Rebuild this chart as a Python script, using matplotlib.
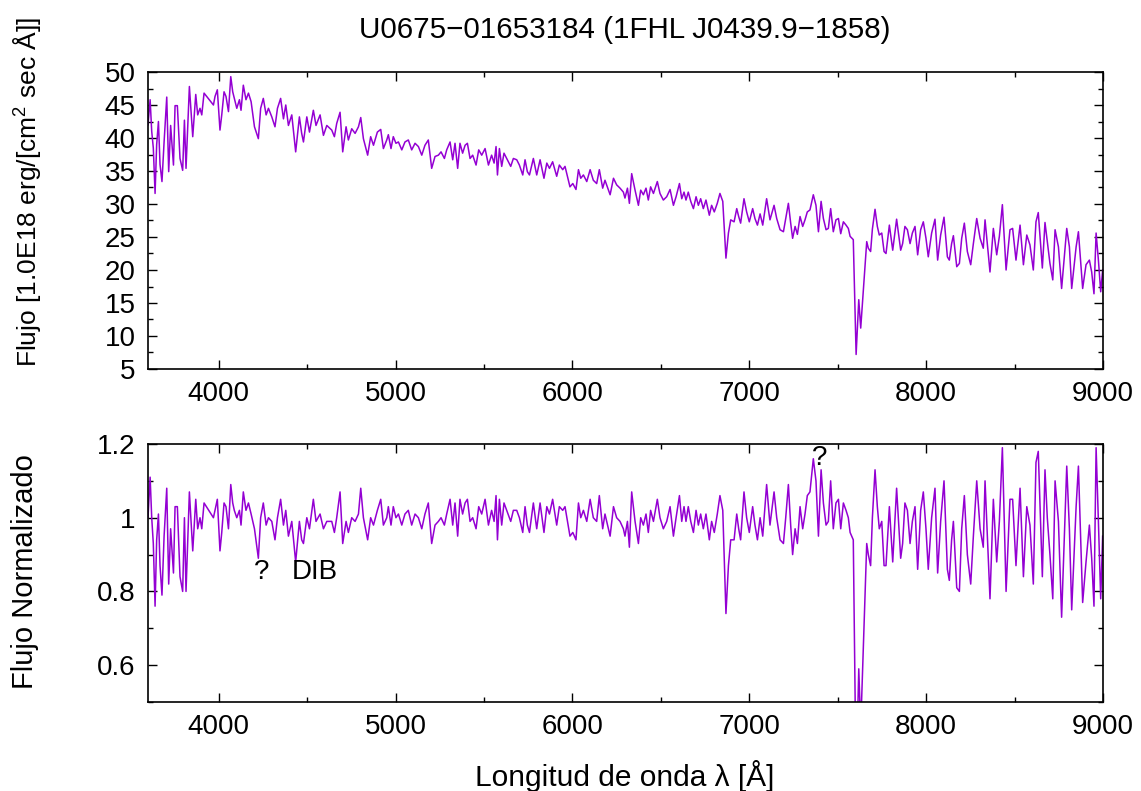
import matplotlib
matplotlib.use("Agg")
import matplotlib.pyplot as plt
from matplotlib.ticker import MultipleLocator

# spectrum: wavelength [A], flux [1e-18 erg/cm2/s/A], normalized flux
wave = [
    3600, 3612, 3621, 3630, 3640, 3649, 3659, 3668, 3679, 3691,
    3706, 3717, 3728, 3744, 3753, 3766, 3781, 3796, 3806, 3815,
    3834, 3853, 3870, 3881, 3894, 3904, 3917, 3970, 3979, 3992,
    4007, 4017, 4030, 4041, 4055, 4068, 4079, 4088, 4102, 4117,
    4126, 4139, 4154, 4168, 4183, 4202, 4224, 4237, 4252, 4268,
    4281, 4300, 4318, 4332, 4350, 4366, 4379, 4394, 4413, 4435,
    4456, 4469, 4479, 4498, 4513, 4535, 4550, 4573, 4592, 4611,
    4639, 4654, 4667, 4686, 4701, 4720, 4733, 4752, 4771, 4790,
    4803, 4818, 4842, 4859, 4875, 4897, 4916, 4931, 4950, 4959,
    4974, 4987, 5002, 5016, 5035, 5053, 5072, 5091, 5110, 5129,
    5148, 5166, 5185, 5204, 5223, 5242, 5257, 5276, 5289, 5308,
    5323, 5336, 5351, 5364, 5379, 5393, 5406, 5421, 5436, 5455,
    5470, 5487, 5506, 5525, 5543, 5557, 5568, 5576, 5587, 5600,
    5613, 5628, 5651, 5666, 5685, 5700, 5719, 5732, 5745, 5757,
    5779, 5798, 5817, 5839, 5855, 5870, 5888, 5911, 5926, 5945,
    5958, 5986, 6002, 6020, 6034, 6047, 6062, 6081, 6100, 6118,
    6137, 6152, 6171, 6184, 6213, 6232, 6250, 6269, 6288, 6297,
    6311, 6322, 6335, 6354, 6373, 6386, 6401, 6416, 6429, 6442,
    6458, 6480, 6495, 6514, 6533, 6552, 6571, 6586, 6605, 6618,
    6631, 6642, 6655, 6669, 6684, 6699, 6712, 6725, 6740, 6755,
    6774, 6787, 6802, 6819, 6834, 6850, 6868, 6882, 6895, 6914,
    6929, 6940, 6951, 6970, 6985, 7000, 7019, 7032, 7046, 7061,
    7076, 7098, 7117, 7140, 7155, 7174, 7193, 7206, 7221, 7234,
    7245, 7259, 7272, 7287, 7302, 7315, 7328, 7343, 7362, 7377,
    7391, 7406, 7419, 7434, 7447, 7460, 7475, 7490, 7504, 7517,
    7532, 7547, 7560, 7570, 7588, 7604, 7619, 7630, 7664, 7673,
    7686, 7696, 7711, 7724, 7735, 7749, 7762, 7773, 7792, 7811,
    7833, 7856, 7867, 7880, 7894, 7909, 7922, 7937, 7952, 7969,
    7984, 7999, 8012, 8031, 8050, 8065, 8082, 8101, 8120, 8131,
    8144, 8154, 8173, 8188, 8201, 8216, 8233, 8252, 8267, 8286,
    8305, 8323, 8333, 8361, 8380, 8399, 8414, 8431, 8452, 8474,
    8489, 8508, 8531, 8550, 8569, 8587, 8606, 8621, 8634, 8657,
    8672, 8685, 8700, 8716, 8729, 8748, 8766, 8795, 8810, 8823,
    8848, 8861, 8885, 8904, 8923, 8936, 8949, 8961, 8974, 8987, 8998,
]

flux = [
    42.0, 45.8, 41.0, 38.5, 31.6, 39.0, 42.5, 36.0, 33.4, 39.4,
    46.2, 34.9, 41.9, 35.9, 44.9, 44.9, 36.9, 35.1, 42.7, 35.4,
    47.8, 40.2, 46.6, 43.5, 44.5, 43.5, 46.8, 45.0, 46.3, 47.3,
    41.2, 43.5, 47.0, 46.3, 44.0, 49.3, 47.0, 46.0, 44.5, 45.8,
    44.2, 48.0, 45.8, 46.8, 45.5, 41.7, 39.9, 44.5, 46.0, 43.5,
    44.5, 43.2, 41.7, 44.5, 46.0, 42.9, 45.0, 41.9, 43.5, 37.9,
    43.2, 40.7, 39.4, 43.2, 40.9, 44.2, 41.9, 43.5, 40.4, 41.9,
    41.2, 40.2, 42.2, 43.9, 37.9, 41.7, 39.7, 41.4, 40.7, 41.7,
    43.1, 39.9, 37.4, 40.2, 38.9, 40.9, 41.3, 38.4, 39.7, 40.5,
    38.4, 40.2, 39.2, 39.4, 38.2, 39.4, 39.7, 38.2, 39.2, 38.7,
    37.4, 38.9, 39.7, 35.4, 37.2, 37.4, 37.9, 36.9, 38.2, 39.4,
    36.7, 39.2, 35.4, 39.2, 37.7, 38.9, 39.2, 36.9, 37.4, 35.9,
    38.2, 37.4, 38.4, 35.9, 37.4, 36.2, 38.7, 34.4, 38.4, 35.7,
    37.7, 36.9, 35.7, 36.9, 36.7, 35.9, 34.4, 36.7, 34.9, 34.4,
    36.9, 34.4, 36.7, 33.9, 36.2, 35.4, 36.4, 34.2, 35.9, 35.2,
    35.7, 32.6, 33.1, 32.2, 35.2, 33.9, 34.4, 33.4, 35.2, 33.6,
    33.1, 35.2, 32.4, 33.6, 31.4, 33.9, 32.9, 32.4, 31.8, 30.9,
    32.4, 30.1, 34.6, 32.1, 29.8, 32.1, 31.4, 32.4, 30.6, 32.6,
    31.6, 33.4, 31.6, 30.6, 31.1, 32.2, 29.8, 31.1, 33.1, 30.8,
    31.8, 30.6, 31.8, 30.4, 29.3, 31.1, 29.8, 30.8, 29.3, 30.6,
    28.3, 29.8, 28.8, 30.1, 31.6, 30.4, 21.8, 25.6, 27.6, 27.3,
    29.3, 28.1, 27.1, 30.8, 28.8, 27.3, 29.3, 27.8, 26.8, 28.5,
    26.8, 30.8, 27.6, 29.8, 27.8, 26.1, 25.8, 27.8, 30.1, 27.1,
    24.8, 26.6, 25.4, 28.1, 26.6, 27.6, 28.8, 29.1, 31.4, 29.8,
    25.8, 30.4, 27.8, 26.1, 26.3, 29.3, 25.8, 27.6, 27.8, 25.5,
    27.3, 26.8, 26.3, 25.1, 24.6, 7.2, 15.5, 11.2, 24.3, 23.3,
    22.8, 26.2, 29.2, 26.6, 25.3, 25.6, 22.8, 22.5, 26.8, 23.0,
    27.7, 23.0, 24.0, 26.6, 26.1, 24.0, 25.6, 26.6, 22.3, 26.1,
    27.3, 24.8, 22.0, 25.6, 27.7, 21.5, 25.3, 28.0, 22.0, 21.5,
    24.0, 25.2, 20.5, 21.0, 24.8, 27.1, 22.8, 20.8, 24.0, 27.8,
    24.8, 23.3, 27.6, 19.7, 26.3, 22.3, 25.1, 29.9, 20.0, 26.1,
    26.3, 21.5, 26.8, 20.8, 25.3, 23.8, 20.0, 27.3, 28.7, 20.3,
    27.2, 24.3, 21.0, 18.5, 26.1, 23.5, 17.2, 26.3, 23.5, 17.2,
    23.5, 25.8, 17.2, 20.8, 21.5, 19.7, 16.4, 25.6, 21.5, 16.7, 20.0,
]

norm = [
    1.00, 1.11, 1.00, 0.93, 0.76, 0.94, 1.01, 0.87, 0.79, 0.95,
    1.08, 0.82, 0.97, 0.85, 1.03, 1.03, 0.84, 0.80, 1.00, 0.80,
    1.07, 0.91, 1.05, 0.97, 1.00, 0.97, 1.04, 1.00, 1.02, 1.05,
    0.91, 0.96, 1.04, 1.03, 0.97, 1.09, 1.04, 1.02, 1.00, 1.02,
    0.98, 1.07, 1.02, 1.04, 1.01, 0.97, 0.89, 1.00, 1.04, 0.98,
    1.00, 0.99, 0.94, 1.00, 1.05, 0.98, 1.02, 0.95, 0.99, 0.88,
    0.99, 0.94, 0.93, 1.00, 0.97, 1.05, 0.99, 1.01, 0.97, 0.99,
    0.99, 0.96, 1.00, 1.07, 0.93, 0.99, 0.96, 1.00, 0.99, 1.01,
    1.08, 1.00, 0.94, 1.00, 0.98, 1.02, 1.05, 0.98, 1.00, 1.03,
    0.98, 1.03, 1.00, 1.01, 0.98, 1.01, 1.02, 0.98, 1.01, 1.00,
    0.97, 1.01, 1.04, 0.93, 0.98, 0.99, 1.00, 0.98, 1.01, 1.05,
    0.98, 1.04, 0.95, 1.05, 1.01, 1.04, 1.05, 0.99, 1.00, 0.97,
    1.03, 1.01, 1.05, 0.98, 1.02, 0.99, 1.06, 0.94, 1.05, 0.98,
    1.04, 1.02, 0.99, 1.02, 1.02, 1.00, 0.96, 1.03, 0.98, 0.96,
    1.04, 0.97, 1.04, 0.96, 1.03, 1.01, 1.05, 0.98, 1.03, 1.02,
    1.03, 0.95, 0.96, 0.94, 1.04, 1.00, 1.02, 0.99, 1.05, 1.00,
    0.99, 1.06, 0.97, 1.01, 0.95, 1.03, 1.00, 0.99, 0.97, 0.95,
    0.99, 0.92, 1.07, 0.99, 0.93, 1.00, 0.98, 1.01, 0.96, 1.02,
    0.99, 1.05, 1.00, 0.97, 0.99, 1.03, 0.95, 1.00, 1.06, 0.99,
    1.03, 0.99, 1.03, 0.99, 0.96, 1.02, 0.98, 1.01, 0.97, 1.01,
    0.94, 0.99, 0.96, 1.01, 1.06, 1.02, 0.74, 0.87, 0.94, 0.94,
    1.01, 0.97, 0.94, 1.07, 1.00, 0.96, 1.03, 0.98, 0.94, 1.00,
    0.95, 1.09, 0.98, 1.07, 1.00, 0.94, 0.93, 1.00, 1.09, 0.98,
    0.90, 0.97, 0.93, 1.03, 0.97, 1.01, 1.06, 1.07, 1.16, 1.10,
    0.95, 1.13, 1.04, 0.98, 0.99, 1.10, 0.97, 1.04, 1.05, 0.97,
    1.04, 1.02, 1.00, 0.96, 0.94, 0.28, 0.59, 0.43, 0.93, 0.90,
    0.87, 1.00, 1.13, 1.03, 0.97, 0.99, 0.87, 0.87, 1.03, 0.88,
    1.08, 0.89, 0.93, 1.04, 1.02, 0.93, 0.99, 1.03, 0.86, 1.02,
    1.07, 0.97, 0.86, 1.00, 1.08, 0.85, 0.99, 1.10, 0.86, 0.83,
    0.94, 0.99, 0.81, 0.80, 0.97, 1.06, 0.90, 0.82, 0.95, 1.10,
    0.97, 0.92, 1.10, 0.78, 1.05, 0.88, 0.99, 1.19, 0.80, 1.05,
    1.05, 0.87, 1.08, 0.84, 1.03, 0.98, 0.82, 1.15, 1.18, 0.84,
    1.13, 1.00, 0.90, 0.78, 1.10, 0.99, 0.73, 1.14, 0.97, 0.75,
    1.03, 1.14, 0.77, 0.88, 0.98, 0.89, 0.76, 1.19, 0.99, 0.78, 0.95,
]

title = "U0675\u221201653184 (1FHL J0439.9\u22121858)"
labels = [("?", 4245, 0.852), ("DIB", 4545, 0.852), ("?", 7400, 1.163)]

assert len(wave) == len(flux) == len(norm)

plt.rcParams["font.family"] = ["Liberation Sans", "DejaVu Sans"]
plt.rcParams["mathtext.default"] = "regular"
plt.rcParams["font.size"] = 20

color = "#9400d3"
W, H = 1141, 791

fig = plt.figure(figsize=(W / 100, H / 100), dpi=100)
ax1 = fig.add_axes([148 / W, 1 - 369 / H, 955 / W, 297 / H])
ax2 = fig.add_axes([148 / W, 1 - 702 / H, 955 / W, 258 / H])


def gnuplot_style(ax):
    ax.tick_params(which="both", direction="in", top=True, right=True, width=1)
    ax.tick_params(which="major", length=6.5, pad=9)
    ax.tick_params(which="minor", length=3.5)
    for s in ax.spines.values():
        s.set_linewidth(1.2)
    ax.xaxis.set_major_locator(MultipleLocator(1000))
    ax.xaxis.set_minor_locator(MultipleLocator(500))


ax1.plot(wave, flux, color=color, lw=1.1)
ax1.set_xlim(3600, 9000)
ax1.set_ylim(5, 50)
ax1.yaxis.set_major_locator(MultipleLocator(5))
ax1.yaxis.set_minor_locator(MultipleLocator(2.5))
gnuplot_style(ax1)

ax2.plot(wave, norm, color=color, lw=1.1)
ax2.set_xlim(3600, 9000)
ax2.set_ylim(0.5, 1.2)
ax2.yaxis.set_major_locator(MultipleLocator(0.2))
ax2.yaxis.set_minor_locator(MultipleLocator(0.1))
ax2.yaxis.set_major_formatter(plt.FuncFormatter(lambda v, p: f"{v:g}"))
gnuplot_style(ax2)

for txt, x, y in labels:
    ax2.text(x, y, txt, ha="center", va="center")

fig.text(625 / W, 1 - 30 / H, title, ha="center", va="center", fontsize=21.3)
fig.text(27 / W, 1 - 192 / H, "Flujo [1.0E18 erg/[cm$^2$ sec Å]]",
         rotation=90, ha="center", va="center", fontsize=19)
fig.text(25 / W, 1 - 572 / H, "Flujo Normalizado", rotation=90,
         ha="center", va="center", fontsize=21)
fig.text(625 / W, 1 - 776 / H, "Longitud de onda λ [Å]",
         ha="center", va="center", fontsize=21.5)

fig.savefig("out.png", dpi=100)
